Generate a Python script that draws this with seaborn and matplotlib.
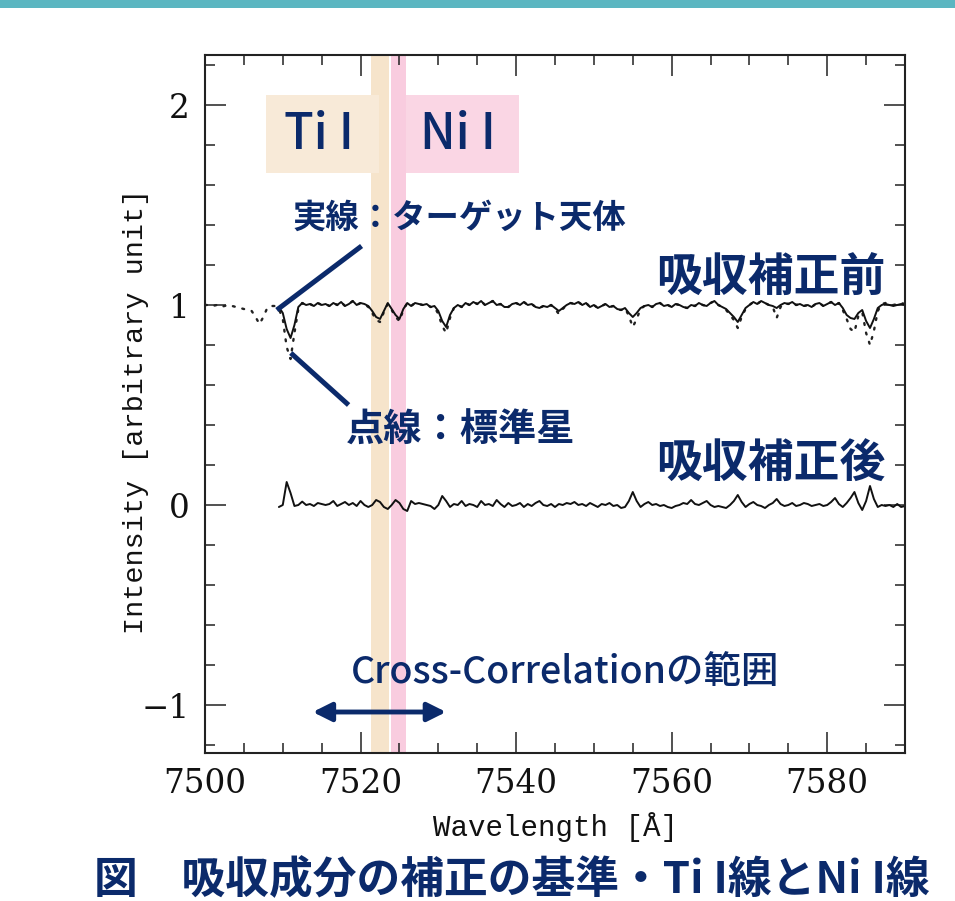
import numpy as np
import pandas as pd
import matplotlib
matplotlib.use("Agg")
import matplotlib.pyplot as plt
from matplotlib.patches import Rectangle
from matplotlib.ticker import MultipleLocator
import seaborn as sns

# ---- spectra (normalised intensity), sampled every 0.5 Å ----
WL_STEP = 0.5
TARGET_START = 7509.5   # first sample of the target / corrected spectra
STAR_START = 7500.0     # first sample of the standard-star spectrum

# target object, before telluric correction (solid)
target_flux = [
    0.99, 0.96, 0.88, 0.835, 0.90, 0.99, 1.01, 1.00, 1.005, 0.995,      # 7509.5-
    1.01, 1.00, 1.005, 0.995, 1.01, 1.00, 1.015, 0.995, 1.005, 1.02,    # 7514.5-
    1.00, 1.01, 1.005, 0.995, 0.97, 0.94, 0.93, 0.97, 1.01, 0.98,       # 7519.5-
    0.95, 0.93, 0.98, 1.01, 0.995, 1.01, 1.005, 1.00, 1.005, 0.99,      # 7524.5-
    0.995, 0.97, 0.92, 0.89, 0.95, 0.985, 1.00, 0.99, 1.01, 1.00,       # 7529.5-
    1.015, 1.005, 1.02, 1.00, 1.01, 1.02, 1.00, 1.005, 0.99, 0.99,      # 7534.5-
    1.005, 1.01, 1.00, 1.015, 1.00, 1.005, 0.99, 0.985, 0.995, 0.99,    # 7539.5-
    1.00, 0.985, 0.97, 0.985, 1.00, 1.01, 1.005, 1.015, 1.00, 1.01,     # 7544.5-
    0.99, 1.00, 0.985, 0.995, 1.005, 0.99, 0.995, 0.98, 0.975, 0.985,   # 7549.5-
    0.96, 0.94, 0.96, 0.985, 0.995, 1.00, 0.99, 1.005, 1.01, 0.995,     # 7554.5-
    1.00, 0.99, 1.005, 1.00, 0.99, 0.985, 1.00, 0.995, 1.01, 1.00,      # 7559.5-
    0.995, 1.01, 1.02, 1.00, 0.99, 0.98, 0.96, 0.94, 0.915, 0.95,       # 7564.5-
    0.985, 1.00, 1.015, 1.005, 1.02, 1.01, 1.00, 0.995, 0.985, 1.00,    # 7569.5-
    1.01, 1.005, 1.015, 1.00, 1.005, 0.995, 1.00, 0.99, 1.005, 1.01,    # 7574.5-
    0.995, 1.005, 1.015, 1.00, 1.01, 0.985, 0.95, 0.935, 0.93, 0.96,    # 7579.5-
    0.975, 0.92, 0.885, 0.93, 0.985, 1.00, 1.005, 1.00, 0.995, 1.00,    # 7584.5-
    1.005, 1.00,                                                        # 7589.5-
]

# standard star (dotted)
star_flux = [
    1.00, 1.00, 0.995, 1.00, 0.99, 0.995, 1.00, 0.995, 0.99, 0.985,     # 7500.0-
    0.98, 0.975, 0.97, 0.94, 0.905, 0.94, 0.985, 0.995, 0.995,          # 7505.0-
    0.98, 0.93, 0.79, 0.73, 0.86, 0.98, 1.01, 1.00, 1.005, 0.995,       # 7509.5-
    1.01, 1.00, 1.005, 0.995, 1.01, 1.00, 1.015, 0.995, 1.005, 1.02,    # 7514.5-
    1.00, 1.01, 1.005, 0.99, 0.96, 0.925, 0.915, 0.965, 1.005, 0.975,   # 7519.5-
    0.94, 0.92, 0.975, 1.01, 0.995, 1.01, 1.005, 1.00, 1.005, 0.99,     # 7524.5-
    0.99, 0.955, 0.895, 0.86, 0.935, 0.985, 1.00, 0.99, 1.01, 1.00,     # 7529.5-
    1.015, 1.005, 1.02, 1.00, 1.01, 1.02, 1.00, 1.005, 0.99, 0.99,      # 7534.5-
    1.005, 1.01, 1.00, 1.015, 1.00, 1.005, 0.99, 0.985, 0.995, 0.99,    # 7539.5-
    1.00, 0.98, 0.955, 0.98, 1.00, 1.01, 1.005, 1.015, 1.00, 1.01,      # 7544.5-
    0.99, 1.00, 0.985, 0.995, 1.005, 0.99, 0.995, 0.98, 0.975, 0.985,   # 7549.5-
    0.945, 0.89, 0.93, 0.98, 0.995, 1.00, 0.99, 1.005, 1.01, 0.995,     # 7554.5-
    1.00, 0.99, 1.005, 1.00, 0.99, 0.985, 1.00, 0.995, 1.01, 1.00,      # 7559.5-
    0.995, 1.01, 1.02, 1.00, 0.99, 0.975, 0.95, 0.925, 0.885, 0.94,     # 7564.5-
    0.98, 1.00, 1.015, 1.005, 1.02, 1.01, 1.00, 0.99, 0.935, 0.99,      # 7569.5-
    1.01, 1.005, 1.015, 1.00, 1.005, 0.995, 1.00, 0.99, 1.005, 1.01,    # 7574.5-
    0.995, 1.005, 1.015, 1.00, 1.01, 0.975, 0.93, 0.88, 0.865, 0.945,   # 7579.5-
    0.965, 0.86, 0.80, 0.87, 0.97, 1.005, 1.01, 1.005, 1.00, 1.005,     # 7584.5-
    1.01, 1.005,                                                        # 7589.5-
]

# target after dividing by the standard star, shifted to zero
corrected_flux = [
    -0.01, 0.0, 0.115, 0.06, -0.005, 0.0, 0.017, 0.0, 0.005, -0.005,    # 7509.5-
    0.01, 0.005, 0.0, 0.005, 0.02, -0.005, 0.005, 0.015, 0.0, 0.01,     # 7514.5-
    -0.005, 0.02, 0.0, -0.01, 0.0, 0.025, 0.015, -0.01, -0.02, 0.0,     # 7519.5-
    0.025, 0.01, -0.02, -0.03, 0.02, 0.005, 0.01, 0.005, 0.0, -0.005,   # 7524.5-
    -0.02, 0.0, 0.045, 0.02, -0.01, 0.005, 0.0, 0.02, -0.005, 0.005,    # 7529.5-
    0.0, -0.01, 0.02, 0.0, 0.005, -0.005, 0.025, 0.005, -0.01, 0.01,    # 7534.5-
    -0.005, 0.0, 0.01, -0.01, 0.005, -0.005, 0.01, 0.02, 0.0, -0.005,   # 7539.5-
    0.005, -0.01, 0.005, 0.0, 0.01, 0.005, 0.015, 0.0, 0.005, -0.005,   # 7544.5-
    0.01, 0.0, -0.01, 0.005, 0.0, 0.01, -0.005, 0.0, -0.015, -0.01,     # 7549.5-
    0.02, 0.065, 0.02, -0.01, 0.005, 0.015, 0.0, 0.005, -0.005, 0.0,    # 7554.5-
    -0.01, -0.015, -0.005, 0.0, 0.01, 0.005, 0.025, 0.005, 0.0, 0.01,   # 7559.5-
    0.02, 0.0, -0.01, -0.005, -0.01, -0.015, 0.0, 0.02, 0.05, 0.015,    # 7564.5-
    -0.01, 0.005, 0.015, 0.0, -0.005, -0.015, 0.0, 0.01, 0.03, 0.005,   # 7569.5-
    -0.005, 0.0, 0.01, -0.005, 0.0, 0.01, 0.005, -0.005, 0.0, 0.005,    # 7574.5-
    -0.005, 0.0, 0.015, 0.035, 0.005, -0.01, 0.01, 0.035, 0.065, 0.01,  # 7579.5-
    -0.025, 0.02, 0.095, 0.03, -0.01, 0.0, -0.005, 0.0, -0.01, 0.005,   # 7584.5-
    -0.01, -0.005,                                                      # 7589.5-
]

# reference absorption lines (wavelength ranges, Å)
line_names = ["Ti I", "Ni I"]
line_lo = [7521.4, 7523.85]
line_hi = [7523.6, 7525.9]

# wavelength range used for the cross-correlation
xcorr_range = [7513.85, 7531.0]

# axis ticks
x_ticks = [7500, 7520, 7540, 7560, 7580]
y_ticks = [-1, 0, 1, 2]
y_tick_labels = ["\u22121", "0", "1", "2"]

# ---- build tidy frames ----
wl_target = TARGET_START + WL_STEP * np.arange(len(target_flux))
wl_star = STAR_START + WL_STEP * np.arange(len(star_flux))
df_target = pd.DataFrame({"wavelength": wl_target, "flux": target_flux})
df_star = pd.DataFrame({"wavelength": wl_star, "flux": star_flux})
df_corr = pd.DataFrame({"wavelength": wl_target, "flux": corrected_flux})

# ---- style ----
sns.set_style("ticks")
plt.rcParams["font.family"] = ["Noto Sans CJK JP", "DejaVu Sans"]

NAVY = "#0B2A6B"
TAN_BAND = "#F6E4CB"
PINK_BAND = "#F9CCDF"
TAN_BOX = "#F8EAD8"
PINK_BOX = "#FAD6E4"

fig = plt.figure(figsize=(9.55, 9.01), dpi=100)
fig.patch.set_facecolor("white")

# teal header strip
fig.patches.append(Rectangle((0, 1 - 8 / 901), 1, 8 / 901, transform=fig.transFigure,
                             facecolor="#5BB6C1", edgecolor="none", zorder=0))

ax = fig.add_axes([205 / 955, 148 / 901, 700 / 955, 698 / 901])
ax.set_xlim(7500, 7590)
ax.set_ylim(-1.24, 2.25)

# line bands
for lo, hi, col in zip(line_lo, line_hi, [TAN_BAND, PINK_BAND]):
    ax.axvspan(lo, hi, facecolor=col, edgecolor="none", zorder=0)

# label boxes
ax.add_patch(Rectangle((7507.8, 1.66), 14.6, 0.39, facecolor=TAN_BOX, edgecolor="none", zorder=0.5))
ax.add_patch(Rectangle((7525.9, 1.66), 14.5, 0.39, facecolor=PINK_BOX, edgecolor="none", zorder=0.5))
ax.text(7514.6, 1.85, line_names[0], ha="center", va="center", fontsize=35,
        color=NAVY, fontweight="medium", zorder=3)
ax.text(7532.5, 1.85, line_names[1], ha="center", va="center", fontsize=35,
        color=NAVY, fontweight="medium", zorder=3)

# spectra
sns.lineplot(data=df_star, x="wavelength", y="flux", ax=ax, color="#222222",
             linewidth=1.7, linestyle=(0, (0.8, 3.3)), dash_capstyle="round",
             estimator=None, sort=False, zorder=2)
sns.lineplot(data=df_target, x="wavelength", y="flux", ax=ax, color="#111111",
             linewidth=1.4, estimator=None, sort=False, zorder=2.5)
sns.lineplot(data=df_corr, x="wavelength", y="flux", ax=ax, color="#111111",
             linewidth=1.4, estimator=None, sort=False, zorder=2.5)

# axes cosmetics
ax.xaxis.set_major_locator(MultipleLocator(20))
ax.xaxis.set_minor_locator(MultipleLocator(5))
ax.yaxis.set_major_locator(MultipleLocator(1))
ax.yaxis.set_minor_locator(MultipleLocator(0.2))
ax.set_xticks(x_ticks)
ax.set_yticks(y_ticks)
ax.set_yticklabels(y_tick_labels)
ax.tick_params(which="both", direction="in", top=True, right=True,
               width=1.1, color="#222222")
ax.tick_params(which="major", length=15, pad=11)
ax.tick_params(which="minor", length=7.5)
for lab in ax.get_xticklabels() + ax.get_yticklabels():
    lab.set_family("DejaVu Serif")
    lab.set_fontsize(23.5)
    lab.set_color("#111111")
for sp in ax.spines.values():
    sp.set_linewidth(1.5)
    sp.set_color("#222222")
    sp.set_visible(True)

ax.set_xlabel("Wavelength [Å]", family="Liberation Mono", fontsize=21, color="#111111")
ax.set_ylabel("Intensity [arbitrary unit]", family="Liberation Mono", fontsize=20.5, color="#111111")
ax.xaxis.set_label_coords(0.5, -0.085)
ax.yaxis.set_label_coords(-0.08, 0.49)

# annotations
ax.text(7511.2, 1.435, "実線：ターゲット天体", ha="left", va="center", fontsize=24,
        color=NAVY, fontweight="bold", zorder=4)
ax.text(7518.1, 0.375, "点線：標準星", ha="left", va="center", fontsize=27.5,
        color=NAVY, fontweight="bold", zorder=4)
ax.plot([7509.23, 7520.13], [0.975, 1.295], color=NAVY, linewidth=3.6,
        solid_capstyle="butt", zorder=4)
ax.plot([7511.03, 7518.46], [0.76, 0.50], color=NAVY, linewidth=3.6,
        solid_capstyle="butt", zorder=4)
ax.text(7572.7, 1.13, "吸収補正前", ha="center", va="center", fontsize=33,
        color=NAVY, fontweight="bold", zorder=4)
ax.text(7572.7, 0.20, "吸収補正後", ha="center", va="center", fontsize=33,
        color=NAVY, fontweight="bold", zorder=4)
ax.text(7546.3, -0.835, "Cross-Correlationの範囲", ha="center", va="center",
        fontsize=27, color=NAVY, fontweight="medium", zorder=4)
ax.annotate("", xy=(xcorr_range[1], -1.035), xytext=(xcorr_range[0], -1.035),
            arrowprops=dict(arrowstyle="<|-|>", color=NAVY, lw=3.5,
                            mutation_scale=28, shrinkA=0, shrinkB=0), zorder=4)

# caption
fig.text(94 / 955, 1 - 880 / 901, "図　吸収成分の補正の基準・Ti I線とNi I線",
         ha="left", va="center", fontsize=31.5, color=NAVY, fontweight="bold")

fig.savefig("out.png", dpi=100, facecolor="white")
